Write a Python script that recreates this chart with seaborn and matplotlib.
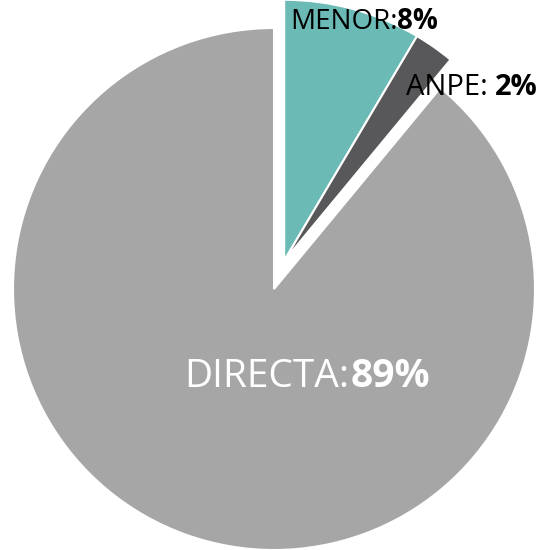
import numpy as np
import matplotlib
matplotlib.use("Agg")
import matplotlib.pyplot as plt
import seaborn as sns

# ---- data ----
categories = ["MENOR", "ANPE", "DIRECTA"]
values = [8.5, 2.5, 89.0]
pct_labels = ["8%", "2%", "89%"]
colors = ["#6BBAB6", "#58585A", "#A6A6A6"]

sns.set_theme(style="white")
plt.rcParams["font.family"] = ["Open Sans", "DejaVu Sans"]

W, H = 539, 550
fig = plt.figure(figsize=(W / 100, H / 100), dpi=100)
ax = fig.add_axes([0, 0, 1, 1])

wedges, _ = ax.pie(values, colors=colors, startangle=90, counterclock=False,
                   radius=1.0,
                   wedgeprops=dict(edgecolor="white", linewidth=1.5))

# explode MENOR + ANPE together along their combined bisector
t_lo = min(w.theta1 for w in wedges[:2])
t_hi = max(w.theta2 for w in wedges[:2])
mid = np.deg2rad((t_lo + t_hi) / 2)
d = 0.115
for w in wedges[:2]:
    w.set_center((d * np.cos(mid), d * np.sin(mid)))

# axes limits: pie centre at (274, 289) px, radius 261 px
R = 261.0
cx, cy = 274.0, 289.0
ax.set_xlim(-cx / R, (W - cx) / R)
ax.set_ylim(-(H - cy) / R, cy / R)
ax.set_aspect("auto")
ax.axis("off")


def two_part_label(x, y, name, pct, size, color, gap=0.0):
    t1 = ax.text(x, y, name + ":", fontsize=size, color=color,
                 ha="left", va="baseline")
    ax.annotate(pct, xy=(1, 0), xycoords=t1, xytext=(gap, 0),
                textcoords="offset points", fontsize=size, color=color,
                fontweight="bold", ha="left", va="bottom")


two_part_label((290 - cx) / R, (cy - 29) / R, categories[0], pct_labels[0], 20, "black")
two_part_label((406 - cx) / R, (cy - 95) / R, categories[1], pct_labels[1], 21, "black", gap=5)
two_part_label((184 - cx) / R, (cy - 387) / R, categories[2], pct_labels[2], 28, "white", gap=1)

fig.savefig("out.png", dpi=100, facecolor="white")
